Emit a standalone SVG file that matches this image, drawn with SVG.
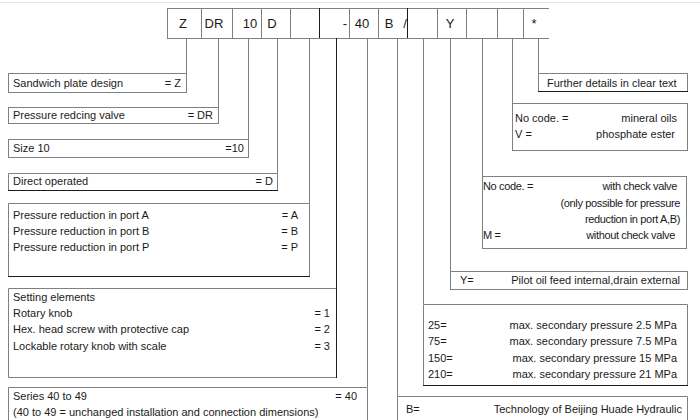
<svg xmlns="http://www.w3.org/2000/svg" width="700" height="420" viewBox="0 0 700 420">
<style>
.ln{fill:none;stroke:#808080;stroke-width:1}
.dk{fill:none;stroke:#1a1a1a;stroke-width:1}
text{font-family:"Liberation Sans",Arial,sans-serif;font-size:11px;fill:#1a1a1a}
.hd{font-size:13px;text-anchor:middle}
.r{text-anchor:end}
.cd{letter-spacing:-0.35px}
</style>
<rect width="700" height="420" fill="#ffffff"/>
<line x1="0" y1="2.5" x2="700" y2="2.5" stroke="#e6e6e6" stroke-width="1"/>

<g id="code">
<path class="ln" d="M167,8.5H549M167,38.5H549M167.5,8V38M201.5,8V38M232.5,8V38M261.5,8V38M290.5,8V38M349.5,8V38M378.5,8V38M437.5,8V38M466.5,8V38M497.5,8V38M523.5,8V38"/>
<path class="dk" d="M319.5,8V38M407.5,8V38"/>
<text class="hd" x="183" y="28">Z</text>
<text class="hd" x="214" y="28">DR</text>
<text class="hd" x="250" y="28">10</text>
<text class="hd" x="272" y="28">D</text>
<text class="hd" x="345" y="28">-</text>
<text class="hd" x="362" y="28">40</text>
<text class="hd" x="389" y="28">B</text>
<text class="hd" x="405" y="28">/</text>
<text class="hd" x="450" y="28">Y</text>
<text class="hd" x="534" y="28">*</text>
</g>

<g id="connectors">
<path class="ln" d="M186.5,38V73M218.5,38V107M248.5,38V139M277.5,38V173M309.5,38V203M367.5,38V387M397.5,38V396M423.5,38V304M450.5,38V271M482.5,38V176M512.5,38V103M538.5,38V73"/>
<path class="dk" d="M336.5,38V288"/>
</g>

<g id="z">
<rect class="ln" x="8.5" y="73.5" width="178" height="19"/>
<text x="13" y="87">Sandwich plate design</text>
<text class="r" x="181" y="87">= Z</text>
</g>

<g id="dr">
<rect class="ln" x="8.5" y="107.5" width="210" height="16"/>
<text x="13" y="119">Pressure redcing valve</text>
<text class="r" x="213" y="119">= DR</text>
</g>

<g id="size">
<rect class="ln" x="8.5" y="139.5" width="240" height="18"/>
<text x="13" y="152">Size 10</text>
<text class="r" x="244" y="152">=10</text>
</g>

<g id="direct">
<path class="ln" d="M8.5,190V173.5H277.5V190.5"/>
<path class="dk" d="M8,190.5H278"/>
<text x="13" y="185">Direct operated</text>
<text class="r" x="273" y="185">= D</text>
</g>

<g id="port">
<path class="ln" d="M8.5,276V203.5H309.5V276"/>
<path class="dk" d="M8,276.5H310"/>
<text x="13" y="219">Pressure reduction in port A</text>
<text x="13" y="235">Pressure reduction in port B</text>
<text x="13" y="251">Pressure reduction in port P</text>
<text class="r" x="298" y="219">= A</text>
<text class="r" x="298" y="235">= B</text>
<text class="r" x="298" y="251">= P</text>
</g>

<g id="setting">
<path class="ln" d="M336.5,377.5H8.5V288.5H336"/>
<path class="dk" d="M336.5,288V378"/>
<text x="13" y="301">Setting elements</text>
<text x="13" y="317">Rotary knob</text>
<text x="13" y="333">Hex. head screw with protective cap</text>
<text x="13" y="350">Lockable rotary knob with scale</text>
<text class="r" x="330" y="317">= 1</text>
<text class="r" x="330" y="333">= 2</text>
<text class="r" x="330" y="350">= 3</text>
</g>

<g id="series">
<path class="ln" d="M8.5,420V387.5H367.5V420"/>
<text x="13" y="400">Series 40 to 49</text>
<text class="r" x="357" y="400">= 40</text>
<text x="13" y="416">(40 to 49 = unchanged installation and connection dimensions)</text>
</g>

<g id="further">
<path class="ln" d="M538.5,91.5V73.5H687.5V91.5"/>
<path class="dk" d="M538,91.5H688"/>
<text x="547" y="87">Further details in clear text</text>
</g>

<g id="fluid">
<rect class="ln" x="512.5" y="103.5" width="175" height="47"/>
<text x="515" y="122">No code. =</text>
<text x="515" y="138">V =</text>
<text class="r" x="677" y="122">mineral oils</text>
<text class="r" x="675" y="138">phosphate ester</text>
</g>

<g id="check">
<rect class="ln" x="482.5" y="176.5" width="204" height="72"/>
<text class="cd" x="483" y="190">No code. =</text>
<text class="r cd" x="677" y="190">with check valve</text>
<text class="r cd" x="680" y="207">(only possible for pressure</text>
<text class="r cd" x="680" y="223">reduction in port A,B)</text>
<text class="cd" x="483" y="239">M =</text>
<text class="r cd" x="675" y="239">without check valve</text>
</g>

<g id="pilot">
<rect class="ln" x="450.5" y="271.5" width="237" height="18"/>
<text x="460" y="284">Y=</text>
<text class="r" x="680" y="284">Pilot oil feed internal,drain external</text>
</g>

<g id="pressure">
<path class="ln" d="M423.5,385V304.5H687.5V385"/>
<path class="dk" d="M423,385.5H688"/>
<text x="428" y="329">25=</text>
<text x="428" y="345">75=</text>
<text x="428" y="362">150=</text>
<text x="428" y="378">210=</text>
<text class="r" x="677" y="329">max. secondary pressure 2.5 MPa</text>
<text class="r" x="677" y="345">max. secondary pressure 7.5 MPa</text>
<text class="r" x="677" y="362">max. secondary pressure 15 MPa</text>
<text class="r" x="677" y="378">max. secondary pressure 21 MPa</text>
</g>

<g id="tech">
<path class="ln" d="M397.5,420V396.5H687.5V420"/>
<text x="406" y="413">B=</text>
<text class="r" x="682" y="413">Technology of Beijing Huade Hydraulic</text>
</g>
</svg>
